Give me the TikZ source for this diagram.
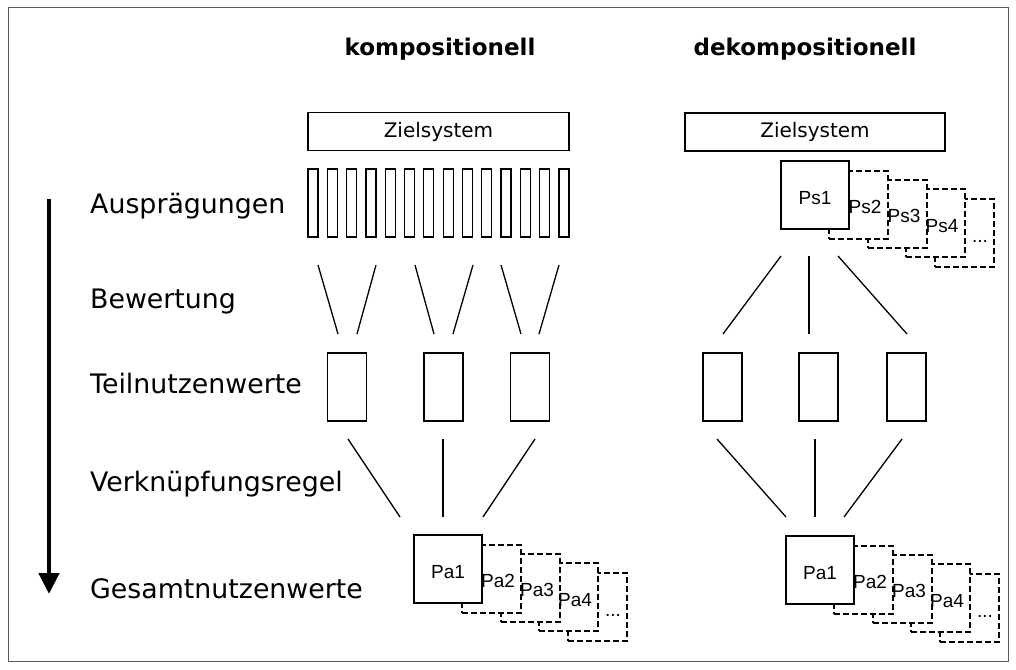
\documentclass[tikz,border=0pt]{standalone}
\usepackage{fontspec}
\setmainfont{DejaVu Sans}
\newfontfamily\arialfont{Liberation Sans}
\usetikzlibrary{arrows.meta}
\newcommand\pstack[4]{%
  \node[dashbox] (#3e) at ({#1+154+29.5},{#2+38+34}) {};
  \node[dashbox] (#3d) at ({#1+125+29.5},{#2+28+34}) {};
  \node[dashbox] (#3c) at ({#1+87+29.5},{#2+19+34}) {};
  \node[dashbox] (#3b) at ({#1+48+29.5},{#2+10+34}) {};
  \node[solidbox, minimum width=68pt, minimum height=68pt] (#3a) at ({#1+34},{#2+34}) {};
  \node[plabel] (#3ta) at ({#1+34},{#2+43}) {#41};
  \node[plabel] (#3tb) at ({#1+84},{#2+52}) {#42};
  \node[plabel] (#3tc) at ({#1+123},{#2+61}) {#43};
  \node[plabel] (#3td) at ({#1+161},{#2+71}) {#44};
  \node[plabel] (#3te) at ({#1+199},{#2+81}) {...};
}
\begin{document}
\begin{tikzpicture}[x=1pt,y=-1pt,
  solidbox/.style={draw, line width=1.2pt, fill=white, inner sep=0pt, rectangle},
  dashbox/.style={draw, line width=2.8pt, dash pattern=on 6pt off 3pt, fill=white, inner sep=0pt, rectangle, minimum width=59pt, minimum height=68pt},
  rowlabel/.style={anchor=base west, font=\fontsize{26.8}{31}\selectfont, inner sep=0pt},
  heading/.style={anchor=base, font=\fontsize{23}{27}\selectfont\bfseries, inner sep=0pt},
  zielbox/.style={solidbox, font=\fontsize{20}{24}\selectfont, minimum height=38pt},
  plabel/.style={anchor=base, font=\arialfont\fontsize{19}{22}\selectfont, inner sep=0pt},
  conn/.style={line width=1.3pt},
  bigarrow/.style={line width=4.5pt, -{Triangle[width=20pt,length=21pt]}},
]
\path[use as bounding box] (0,0) rectangle (1016,669);
\draw[line width=1pt, black!65] (8,8) rectangle (1008,661);

% headings
\node[heading] (hk) at (440,56) {kompositionell};
\node[heading] (hd) at (805,56) {dekompositionell};

% row labels
\node[rowlabel] (l1) at (90,213) {Ausprägungen};
\node[rowlabel] (l2) at (90,308) {Bewertung};
\node[rowlabel] (l3) at (90,393) {Teilnutzenwerte};
\node[rowlabel] (l4) at (90,491) {Verknüpfungsregel};
\node[rowlabel] (l5) at (90,598) {Gesamtnutzenwerte};

% arrow
\coordinate (arrtop) at (49,199);
\coordinate (arrbot) at (49,594);
\draw[bigarrow] (arrtop) -- (arrbot);

% Zielsystem boxes
\node[zielbox, minimum width=261pt] (zk) at (438.5,131.5) {Zielsystem};
\node[zielbox, minimum width=260pt] (zd) at (815,132) {Zielsystem};

% bars
\foreach \i in {0,...,13} {
  \node[solidbox, minimum width=10pt, minimum height=68pt] (bar\i) at ({313+\i*19.3},203) {};
}

% Teilnutzen boxes
\foreach \n/\x in {k1/347,k2/443.5,k3/530,d1/722.5,d2/818.5,d3/906.5} {
  \node[solidbox, minimum width=39pt, minimum height=68pt] (t\n) at (\x,387) {};
}

% Bewertung lines (left)
\foreach \n/\xa/\xb in {1/318/338,2/376/357,3/415/434,4/473/453,5/501/521,6/559/539} {
  \coordinate (bwa\n) at (\xa,265);
  \coordinate (bwb\n) at (\xb,334);
  \draw[conn] (bwa\n) -- (bwb\n);
}

% right top lines
\foreach \n/\xa/\xb in {1/781/723,2/809/809,3/838/907} {
  \coordinate (rta\n) at (\xa,256);
  \coordinate (rtb\n) at (\xb,334);
  \draw[conn] (rta\n) -- (rtb\n);
}

% right bottom lines
\foreach \n/\xa/\xb in {1/717/786,2/815/815,3/902/844} {
  \coordinate (rba\n) at (\xa,439);
  \coordinate (rbb\n) at (\xb,517);
  \draw[conn] (rba\n) -- (rbb\n);
}

% left bottom lines
\foreach \n/\xa/\xb in {1/348/400,2/443/443,3/535/483} {
  \coordinate (lba\n) at (\xa,439);
  \coordinate (lbb\n) at (\xb,517);
  \draw[conn] (lba\n) -- (lbb\n);
}

% stacks
\pstack{781}{161}{ps}{Ps}
\pstack{414}{535}{pak}{Pa}
\pstack{786}{536}{pad}{Pa}
\end{tikzpicture}
\end{document}
